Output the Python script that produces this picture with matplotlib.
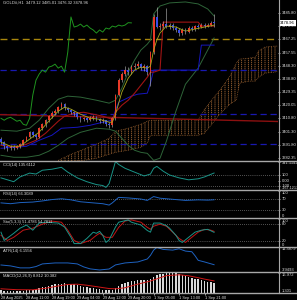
import numpy as np
import matplotlib.pyplot as plt
from matplotlib.lines import Line2D

# ---------- price bars (GOLD#, H1) ----------
opens = [3396.0, 3393.8, 3390.9, 3389.5, 3390.2, 3389.8, 3390.9, 3392.4, 3395.2, 3397.4,
         3400.8, 3398.9, 3397.5, 3403.8, 3406.6, 3409.5, 3412.4, 3414.5, 3415.9, 3418.8,
         3420.9, 3418.1, 3416.6, 3415.2, 3414.5, 3411.6, 3410.2, 3410.9, 3409.5, 3410.9,
         3411.6, 3410.2, 3408.8, 3409.5, 3406.6, 3405.9, 3410.9, 3427.4, 3438.1, 3442.4,
         3445.3, 3443.8, 3447.4, 3448.1, 3449.5, 3446.7, 3448.1, 3443.8, 3458.1, 3483.2,
         3476.0, 3476.7, 3478.1, 3476.0, 3477.4, 3475.3, 3473.9, 3471.7, 3473.9, 3472.4,
         3475.3, 3474.6, 3476.7, 3476.0, 3477.4, 3476.7, 3477.4, 3479.12]
closes = [3393.8, 3390.9, 3389.5, 3390.2, 3389.8, 3390.9, 3392.4, 3395.2, 3397.4, 3400.8,
          3398.9, 3397.5, 3403.8, 3406.6, 3409.5, 3412.4, 3414.5, 3415.9, 3418.8, 3420.9,
          3418.1, 3416.6, 3415.2, 3414.5, 3411.6, 3410.2, 3410.9, 3409.5, 3410.9, 3411.6,
          3410.2, 3408.8, 3409.5, 3406.6, 3405.9, 3410.9, 3427.4, 3438.1, 3442.4, 3445.3,
          3443.8, 3447.4, 3448.1, 3449.5, 3446.7, 3448.1, 3443.8, 3458.1, 3483.2, 3476.0,
          3476.7, 3478.1, 3476.0, 3477.4, 3475.3, 3473.9, 3471.7, 3473.9, 3472.4, 3475.3,
          3474.6, 3476.7, 3476.0, 3477.4, 3476.7, 3477.4, 3479.12, 3478.96]
highs = [3397.5, 3394.5, 3392.0, 3391.5, 3391.8, 3392.0, 3393.5, 3396.0, 3398.5, 3401.6,
         3402.0, 3400.0, 3404.5, 3407.8, 3410.5, 3413.5, 3416.0, 3417.5, 3420.0, 3422.5,
         3421.6, 3419.2, 3417.5, 3416.4, 3415.2, 3412.8, 3412.0, 3411.8, 3412.2, 3413.0,
         3412.5, 3411.0, 3410.8, 3410.0, 3408.0, 3411.8, 3428.5, 3440.0, 3444.0, 3448.0,
         3447.2, 3449.0, 3450.5, 3452.0, 3450.4, 3449.6, 3449.0, 3459.0, 3485.0, 3490.5,
         3479.0, 3480.0, 3489.5, 3479.0, 3478.6, 3476.5, 3475.0, 3475.0, 3475.2, 3476.5,
         3476.8, 3477.8, 3478.0, 3478.6, 3479.0, 3478.8, 3480.2, 3485.01]
lows = [3392.5, 3389.0, 3387.5, 3388.0, 3388.6, 3388.9, 3390.0, 3391.8, 3394.6, 3396.8,
        3397.5, 3396.0, 3396.8, 3402.5, 3405.0, 3408.6, 3411.0, 3413.2, 3415.0, 3417.6,
        3417.0, 3415.5, 3413.8, 3412.8, 3410.5, 3408.6, 3408.9, 3408.0, 3408.7, 3409.9,
        3409.0, 3407.5, 3407.6, 3405.2, 3404.0, 3405.0, 3410.0, 3426.5, 3436.5, 3441.0,
        3441.8, 3442.5, 3445.8, 3447.0, 3445.0, 3444.5, 3442.0, 3434.0, 3457.0, 3475.0,
        3474.0, 3475.5, 3475.2, 3474.8, 3474.0, 3472.5, 3469.8, 3470.5, 3471.0, 3471.5,
        3473.2, 3473.5, 3474.8, 3475.0, 3475.5, 3475.8, 3476.4, 3476.32]

time_ticks = [0, 8, 16, 24, 32, 40, 48, 56, 64]
time_labels = ['28 Aug 2025', '28 Aug 11:00', '28 Aug 19:00', '29 Aug 04:00', '29 Aug 12:00',
               '29 Aug 20:00', '1 Sep 05:00', '1 Sep 13:00', '1 Sep 21:00']

# ---------- main window overlays (bar index, price) ----------
bb_up_x = [0, 5, 9, 12, 15, 18, 21, 25, 30, 34, 36, 38, 40, 42, 44, 46, 47, 48, 50, 53, 58, 62, 65, 67]
bb_up_y = [3402.4, 3401.7, 3403.8, 3409.5, 3418.0, 3424.5, 3426.7, 3426.0, 3423.8, 3421.7, 3423.8,
           3432.4, 3443.8, 3452.4, 3459.6, 3463.8, 3466.7, 3485.3, 3491.0, 3493.2, 3493.9, 3492.5,
           3488.9, 3483.9]
bb_dn_x = [0, 4, 8, 12, 15, 18, 21, 25, 30, 34, 36, 38, 40, 42, 44, 46, 48, 50, 52, 55, 58, 62, 65, 67]
bb_dn_y = [3384.5, 3383.1, 3383.1, 3384.5, 3387.4, 3391.6, 3396.6, 3400.9, 3403.8, 3403.1, 3401.7,
           3396.6, 3391.6, 3388.1, 3386.6, 3385.9, 3380.9, 3382.4, 3394.5, 3416.0, 3435.2, 3446.7,
           3459.6, 3468.2]
ma_x = [0, 3, 6, 9, 12, 15, 18, 20, 22, 25, 28, 31, 34, 35, 36, 37, 38, 40, 42, 44, 46, 47, 48,
        49, 50, 52, 55, 58, 61, 64, 67]
ma_y = [3393.8, 3391.0, 3391.0, 3396.0, 3401.0, 3408.8, 3416.0, 3418.8, 3417.4, 3413.8, 3411.0,
        3410.2, 3408.1, 3408.1, 3413.8, 3421.7, 3429.5, 3439.5, 3445.3, 3447.4, 3446.7, 3448.1,
        3459.6, 3466.7, 3471.7, 3476.7, 3476.0, 3473.1, 3474.6, 3476.0, 3477.4]
tenkan_x = [0, 5, 8, 11, 14, 16, 18, 20, 23, 26, 29, 32, 34, 35, 36, 38, 40, 42, 44, 46, 47,
            48, 50, 51, 62, 63, 67]
tenkan_y = [3391.6, 3390.2, 3392.4, 3395.2, 3400.2, 3404.5, 3408.8, 3412.4, 3414.5, 3415.2, 3413.8,
            3412.4, 3410.9, 3410.2, 3415.2, 3420.2, 3423.8, 3428.8, 3434.5, 3440.2, 3443.8, 3443.8,
            3445.3, 3479.5, 3479.5, 3476.7, 3476.7]
kijun_x = [0, 8, 12, 16, 19, 24, 28, 32, 35, 36, 37, 39, 41, 43, 46, 47, 48, 62, 63, 67]
kijun_y = [3389.5, 3390.9, 3395.2, 3398.8, 3403.8, 3404.5, 3405.9, 3408.1, 3409.5, 3416.7, 3422.4,
           3424.5, 3426.7, 3428.1, 3428.8, 3436.0, 3445.3, 3445.3, 3463.1, 3463.1]
cloud_x = [18, 22, 26, 30, 34, 36, 40, 44, 46, 47, 50, 55, 60, 62, 64, 66, 68, 70, 72, 74, 75,
           78, 80, 81, 83, 86, 87]
span_a = [3380.9, 3385.2, 3388.8, 3392.4, 3396.6, 3401.7, 3403.8, 3406.6, 3408.8, 3409.5, 3409.5,
          3409.5, 3410.2, 3409.5, 3417.4, 3423.1, 3428.8, 3434.5, 3441.0, 3450.2, 3453.1, 3453.8,
          3454.5, 3458.9, 3461.7, 3462.4, 3462.4]
span_b = [3380.4, 3380.4, 3380.9, 3382.4, 3385.2, 3386.6, 3388.1, 3390.2, 3393.1, 3398.8, 3398.8,
          3398.8, 3398.8, 3398.8, 3400.2, 3405.9, 3411.6, 3416.7, 3421.0, 3423.8, 3435.9, 3437.4,
          3437.4, 3440.2, 3443.1, 3443.8, 3444.5]
hline_gold = 3467.6
hlines_blue = [3445.3, 3414.1, 3392.3]
trend_red = [3413.5, 3408.6]

# ---------- sub windows (bar index, value) ----------
cci_x = [0, 4, 6, 9, 11, 13, 16, 19, 21, 24, 27, 30, 32, 33, 34, 36, 37, 39, 42, 45, 47, 48, 49,
         51, 53, 56, 59, 62, 64, 67]
cci_y = [48.7, -19.7, 65.8, 134.0, 117.0, 185.0, 203.0, 237.0, 151.0, 48.7, -19.7, -71.0, -88.0,
         -122.0, -54.0, 341.1, 288.0, 220.0, 151.0, 83.0, 117.0, 220.0, 254.0, 168.0, 100.0, 48.7,
         14.0, 32.0, 65.8, 135.6]
rsi_x = [0, 3, 6, 10, 13, 16, 19, 22, 25, 29, 32, 34, 35, 37, 40, 44, 46, 48, 50, 54, 58, 62, 65, 67]
rsi_y = [55, 52, 56, 58, 62, 67, 70, 66, 59, 55, 52, 47, 55, 75, 73, 69, 64, 78, 72, 68, 64, 66, 65, 66.3]
sto_x = [0, 1, 4, 6, 8, 10, 12, 14, 18, 20, 22, 23, 25, 27, 29, 30, 31, 32, 33, 34, 36, 37, 40,
         41, 44, 46, 47, 48, 50, 52, 53, 55, 56, 57, 59, 61, 63, 65, 67]
sto_main = [52, 23, 48, 66, 77, 59, 84, 87, 84, 70, 34, 12, 12, 30, 52, 48, 55, 41, 16, 25, 70,
            87, 95, 87, 77, 58, 52, 84, 84, 75, 66, 41, 23, 16, 34, 52, 59, 62, 51.5]
sig_x = [0, 2, 4, 7, 10, 13, 16, 19, 21, 23, 25, 28, 30, 31, 33, 35, 37, 39, 41, 44, 46, 47, 48,
         50, 52, 54, 56, 58, 60, 62, 64, 66, 67]
sto_sig = [41, 23, 34, 59, 66, 80, 91, 87, 59, 23, 12, 23, 41, 48, 34, 34, 69, 91, 95, 87, 69, 62,
           73, 80, 73, 52, 30, 16, 34, 52, 62, 59, 54.8]
atr_x = [0, 3, 6, 9, 11, 13, 17, 21, 24, 26, 28, 31, 34, 36, 39, 43, 46, 47, 48, 49, 51, 54, 56,
         58, 60, 61, 62, 64, 67]
atr_y = [6.08, 5.8, 5.2, 5.2, 5.6, 6.4, 6.7, 6.7, 6.4, 5.5, 4.9, 4.56, 4.86, 6.1, 6.7, 7.0, 7.9,
         9.0, 10.6, 11.39, 10.8, 10.6, 11.0, 10.3, 10.1, 8.9, 7.5, 7.0, 6.16]
macd_hist = [3.0, 2.8, 2.6, 2.5, 2.4, 2.4, 2.5, 2.7, 3.0, 3.3, 3.6, 4.0, 4.6, 5.3, 6.0, 6.6, 7.1,
             7.6, 8.0, 8.3, 8.4, 8.3, 8.0, 7.6, 7.0, 6.5, 6.0, 5.4, 4.9, 4.5, 4.2, 3.9, 3.6, 3.3,
             3.0, 3.2, 4.8, 6.5, 7.7, 8.7, 9.4, 10.0, 10.5, 10.9, 11.0, 11.1, 10.9, 11.9, 13.8,
             14.8, 15.5, 16.0, 16.5, 16.97, 16.8, 16.4, 15.8, 15.1, 14.4, 13.6, 12.9, 12.2, 11.6,
             11.0, 10.4, 9.8, 9.3, 8.812]
macd_sig_x = [0, 5, 10, 14, 18, 21, 24, 27, 30, 34, 36, 39, 42, 47, 52, 56, 59, 62, 64, 67]
macd_sig = [4.2, 3.5, 3.4, 4.6, 6.4, 7.6, 7.8, 7.0, 5.9, 4.4, 4.2, 5.0, 7.2, 10.3, 14.5, 15.2,
            14.4, 12.9, 11.8, 10.382]

# ---------- layout (pixel rows of the 297x300 image) ----------
W, H = 297.0, 300.0
PW = 278.0
BG = 'black'
TXT = '#dedede'
FS = 3.0
CLOUD = '#b07038'
plt.rcParams['font.family'] = ['Liberation Sans Narrow', 'Liberation Sans', 'DejaVu Sans']
plt.rcParams['hatch.linewidth'] = 0.55

fig = plt.figure(figsize=(2.97, 3.0), dpi=100, facecolor=BG)


def panel(top, bottom):
    ax = fig.add_axes([0, 1 - bottom / H, PW / W, (bottom - top) / H])
    ax.set_facecolor(BG)
    for s in ax.spines.values():
        s.set_visible(False)
    ax.set_xlim(-0.31, 87.1)
    ax.tick_params(axis='x', bottom=False, labelbottom=False)
    ax.yaxis.tick_right()
    ax.tick_params(axis='y', colors=TXT, labelsize=FS, length=1.5, width=0.5, pad=1.0)
    return ax


def right_labels(ax, vals, texts, vas):
    ax.set_yticks(vals)
    ax.set_yticklabels(texts)
    for lab, va in zip(ax.get_yticklabels(), vas):
        lab.set_va(va)


def title(s, y_top):
    fig.text(3 / W, 1 - y_top / H, s, color=TXT, fontsize=FS, va='top', ha='left')


main = panel(0, 161)
cci = panel(161.5, 190)
rsi = panel(190.5, 218)
sto = panel(218.5, 247)
atr = panel(247.5, 272)
macd = panel(272.5, 292.5)

# ---------- main window ----------
main.set_ylim(3380.43, 3495.29)
idx = np.arange(len(closes))
o = np.array(opens)
c = np.array(closes)
up = c >= o

# Ichimoku cloud: dotted vertical hatch
main.fill_between(cloud_x, span_a, span_b, facecolor='none', edgecolor=CLOUD,
                  hatch='|||||', linewidth=0, zorder=1)
main.fill_between(cloud_x, span_a, span_b, facecolor='none', edgecolor='black',
                  hatch='--------', linewidth=0, zorder=1.1)
main.plot(cloud_x, span_a, color=CLOUD, lw=0.5, ls=(0, (1, 1.5)), zorder=1.2)
main.plot(cloud_x, span_b, color=CLOUD, lw=0.5, ls=(0, (1, 1.5)), zorder=1.2)

main.axhline(hline_gold, color='#a8860c', lw=1.0, ls=(0, (5, 3)), zorder=2)
for v in hlines_blue:
    main.axhline(v, color='#1818b0', lw=0.9, ls=(0, (5, 3)), zorder=2)
main.plot([-0.31, 87.1], trend_red, color='#8c1010', lw=1.0, zorder=2)

main.plot(bb_up_x, bb_up_y, color='#2e6438', lw=0.7, zorder=3)
main.plot(bb_dn_x, bb_dn_y, color='#2e6438', lw=0.7, zorder=3)
main.plot(kijun_x, kijun_y, color='#1616c0', lw=0.7, zorder=3)
main.plot(tenkan_x, tenkan_y, color='#a01414', lw=0.8, zorder=3)
main.plot(idx[:len(closes) - 26], closes[26:], color='#1f941f', lw=0.7, zorder=3)

main.vlines(idx, lows, highs, color='#c0c0c0', lw=0.4, zorder=4)
body = np.maximum(np.abs(c - o), 0.4)
main.bar(idx, body, bottom=np.minimum(o, c), width=0.55,
         color=np.where(up, '#e83a28', '#3a4ee8'), linewidth=0, zorder=5)
main.plot(ma_x, ma_y, color='#a8a81e', lw=0.6, zorder=6)

main_ticks = [3485.80, 3476.55, 3467.25, 3457.55, 3448.30, 3438.80, 3429.35, 3420.05,
              3410.80, 3401.30, 3391.80, 3382.35]
right_labels(main, main_ticks, ['%.2f' % v for v in main_ticks], ['center'] * len(main_ticks))
main.text(1.007, closes[-1], '%.2f' % closes[-1], transform=main.get_yaxis_transform(),
          fontsize=FS, color='black', va='center', ha='left', zorder=10,
          bbox=dict(boxstyle='square,pad=0.2', fc='white', ec='white', lw=0))
title('GOLD#,H1  3479.12 3485.01 3476.32 3478.96', 1.0)

# ---------- CCI ----------
cci.set_ylim(-167.9, 341.1)
for v in (100, -100):
    cci.axhline(v, color='#a0a0a0', lw=0.5, ls=(0, (1, 2)))
cci.plot(cci_x, cci_y, color='#1a9488', lw=0.7)
right_labels(cci, [341.1, 100, 0, -100, -167.9],
             ['341.1142', '100', '0.00', '-100', '-167.1217'],
             ['top', 'center', 'center', 'center', 'bottom'])
cci.get_yticklabels()[-1].set_fontsize(2.7)
title('CCI(14) 135.6112', 163.0)

# ---------- RSI ----------
rsi.set_ylim(0, 100)
for v in (70, 30):
    rsi.axhline(v, color='#a0a0a0', lw=0.5, ls=(0, (1, 2)))
rsi.plot(rsi_x, rsi_y, color='#1e62c0', lw=0.7)
right_labels(rsi, [100, 70, 30, 0], ['100', '70', '30', '0'], ['top', 'center', 'center', 'bottom'])
title('RSI(14) 66.3089', 192.0)

# ---------- Stochastic ----------
sto.set_ylim(0, 100)
for v in (80, 20):
    sto.axhline(v, color='#a0a0a0', lw=0.5, ls=(0, (1, 2)))
sto.plot(sig_x, sto_sig, color='#c01616', lw=0.7)
sto.plot(sto_x, sto_main, color='#1a9488', lw=0.7)
right_labels(sto, [100, 80, 20, 0], ['100', '80', '20', '0'], ['top', 'center', 'center', 'bottom'])
title('Sto(5,3,3) 51.4786 54.7811', 220.0)

# ---------- ATR ----------
atr.set_ylim(3.9493, 11.3879)
atr.plot(atr_x, atr_y, color='#1e62c0', lw=0.7)
right_labels(atr, [11.3879, 3.9493], ['11.3879', '3.9493'], ['top', 'bottom'])
title('ATR(14) 6.1556', 249.0)

# ---------- MACD ----------
macd.set_ylim(1.301, 16.972)
macd.bar(idx, macd_hist, width=0.45, color='#d8d8d8', linewidth=0)
macd.plot(macd_sig_x, macd_sig, color='#d01616', lw=0.7)
right_labels(macd, [16.972, 1.301], ['16.972', '1.301'], ['top', 'bottom'])
title('MACD(12,26,9) 8.812 10.382', 274.0)
macd.tick_params(axis='x', bottom=True, labelbottom=True, colors=TXT, labelsize=2.8,
                 length=1.5, width=0.5, pad=0.8)
macd.set_xticks(time_ticks)
macd.set_xticklabels(time_labels)
for lab in macd.get_xticklabels():
    lab.set_ha('left')

# ---------- window frames ----------
for y in (161, 190.2, 218.2, 247.2, 272.2, 292.6):
    fig.add_artist(Line2D([0, 1], [1 - y / H, 1 - y / H], transform=fig.transFigure,
                          color='#a8a8a8', lw=1.0))
fig.add_artist(Line2D([(PW + 0.5) / W, (PW + 0.5) / W], [1 - 292.6 / H, 1],
                      transform=fig.transFigure, color='#a8a8a8', lw=0.8))

fig.savefig('out.png', dpi=100, facecolor=BG)
